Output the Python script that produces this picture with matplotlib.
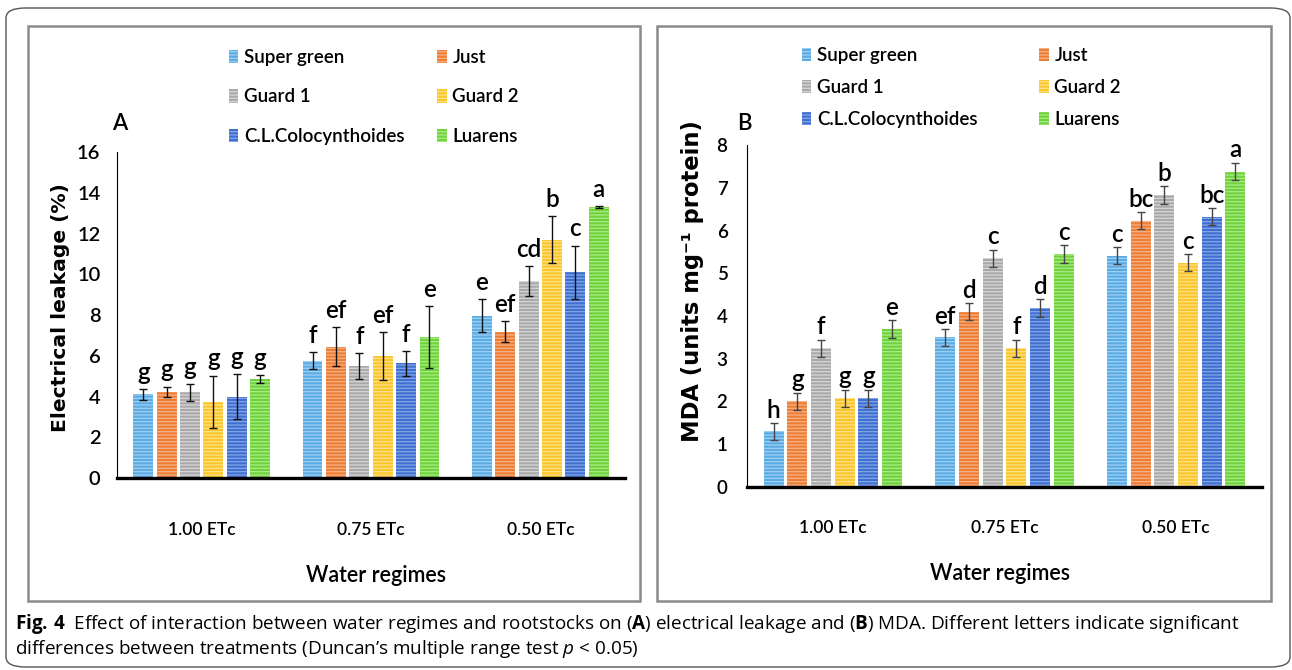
import numpy as np
import matplotlib
matplotlib.use("Agg")
import matplotlib.pyplot as plt
from matplotlib.patches import Rectangle, FancyBboxPatch

W, H = 1292, 670

regimes = ["1.00 ETc", "0.75 ETc", "0.50 ETc"]
rootstocks = ["Super green", "Just", "Guard 1", "Guard 2", "C.L.Colocynthoides", "Luarens"]
colors = ["#5aaae4", "#ee7d34", "#a9a9a9", "#fcc52a", "#3f6fd0", "#6fd23c"]
stripe = ["#9fd0f2", "#f6b288", "#d6d6d6", "#fde28a", "#86a6e6", "#a9ec86"]

# panel A: electrical leakage (%), rows = rootstock, cols = regime
el_mean = [[4.10, 5.76, 7.97],
           [4.24, 6.45, 7.18],
           [4.20, 5.51, 9.67],
           [3.75, 5.99, 11.70],
           [4.00, 5.63, 10.09],
           [4.87, 6.92, 13.30]]
el_err = [[0.25, 0.43, 0.82],
          [0.25, 0.94, 0.51],
          [0.40, 0.64, 0.74],
          [1.28, 1.18, 1.16],
          [1.10, 0.61, 1.32],
          [0.20, 1.54, 0.05]]
el_letters = [["g", "f", "e"],
              ["g", "ef", "ef"],
              ["g", "f", "cd"],
              ["g", "ef", "b"],
              ["g", "f", "c"],
              ["g", "e", "a"]]

# panel B: MDA (units mg-1 protein)
mda_mean = [[1.30, 3.50, 5.41],
            [2.01, 4.10, 6.23],
            [3.24, 5.35, 6.83],
            [2.08, 3.24, 5.25],
            [2.08, 4.18, 6.32],
            [3.69, 5.45, 7.38]]
mda_err = [[0.20, 0.20, 0.20],
           [0.20, 0.20, 0.20],
           [0.21, 0.20, 0.20],
           [0.20, 0.21, 0.20],
           [0.20, 0.21, 0.20],
           [0.21, 0.20, 0.21]]
mda_letters = [["h", "ef", "c"],
               ["g", "d", "bc"],
               ["f", "c", "b"],
               ["g", "f", "c"],
               ["g", "d", "bc"],
               ["e", "c", "a"]]

narrow = ["Lato", "DejaVu Sans"]
WT = "semibold"
plt.rcParams["hatch.linewidth"] = 0.9
plt.rcParams["mathtext.fontset"] = "custom"
plt.rcParams["mathtext.rm"] = "Open Sans"
plt.rcParams["mathtext.bf"] = "Open Sans:bold"
plt.rcParams["mathtext.it"] = "Open Sans:italic"


def box(x0, y0, x1, y1):
    # pixel box (from top-left) -> figure fraction rect
    return [x0 / W, 1 - y1 / H, (x1 - x0) / W, (y1 - y0) / H]


def draw_panel(ax, means, errs, letters, ymax, gap, ecol, ticksize, tickpad, catpad):
    x = np.arange(len(regimes))
    step, width = 0.138, 0.117
    bars = []
    for i, name in enumerate(rootstocks):
        pos = x + (i - 2.5) * step
        b = ax.bar(pos, means[i], width, color=colors[i], edgecolor=stripe[i],
                   linewidth=0, hatch="-----", label=name, zorder=2)
        ax.errorbar(pos, means[i], yerr=errs[i], fmt="none", ecolor=ecol,
                    elinewidth=1.0, capsize=3, capthick=1.0, zorder=3)
        for p, m, e, t in zip(pos, means[i], errs[i], letters[i]):
            ax.text(p, m + e + gap, t, ha="center", va="bottom",
                    fontsize=17.5, family=narrow, fontweight=WT, zorder=4)
        bars.append(b)
    ax.set_xlim(-0.5, 2.5)
    ax.set_ylim(0, ymax)
    ax.set_xticks(x)
    ax.set_xticklabels(regimes, family=narrow, fontsize=12.5, fontweight=WT)
    ax.tick_params(axis="x", length=0, pad=catpad)
    ax.tick_params(axis="y", length=0, pad=tickpad, labelsize=ticksize)
    for lab in ax.get_yticklabels():
        lab.set_family(narrow)
        lab.set_fontweight(WT)
    ax.spines["top"].set_visible(False)
    ax.spines["right"].set_visible(False)
    ax.spines["left"].set_linewidth(0.8)
    ax.spines["bottom"].set_linewidth(2.4)
    ax.patch.set_alpha(0)
    return bars


fig = plt.figure(figsize=(W / 100, H / 100), dpi=100)

# frames
fig.patches.append(FancyBboxPatch((6 / W, 1 - 667 / H), 1284 / W, 659 / H,
                                  boxstyle="round,pad=0,rounding_size=0.015",
                                  transform=fig.transFigure, fill=False,
                                  edgecolor="#555555", linewidth=1.0))
for x0, x1 in [(28, 640), (657, 1271)]:
    r = box(x0, 26, x1, 601)
    fig.patches.append(Rectangle((r[0], r[1]), r[2], r[3], transform=fig.transFigure,
                                 fill=False, edgecolor="#8a8a8a", linewidth=1.8))

axA = fig.add_axes(box(117, 152, 625, 478))
barsA = draw_panel(axA, el_mean, el_err, el_letters, 16, 0.25, "#111111", 14.5, 12, 32)
axA.set_yticks(range(0, 17, 2))

axB = fig.add_axes(box(747, 145, 1262, 487))
barsB = draw_panel(axB, mda_mean, mda_err, mda_letters, 8, 0.03, "#444444", 13.5, 14, 24)
axB.set_yticks(range(0, 9))

# y-axis titles placed by pixel centre
fig.text(61 / W, 1 - 308 / H, "Electrical leakage (%)", rotation=90, ha="center", va="center",
         family="DejaVu Sans", fontweight="bold", fontsize=14.6)
fig.text(692 / W, 1 - 281 / H, "MDA (units mg\u207b\u00b9 protein)", rotation=90, ha="center",
         va="center", family="DejaVu Sans", fontweight="bold", fontsize=16.3)

# legends, ordered column-wise so rows read Super green/Just, Guard 1/Guard 2, ...
order = [0, 2, 4, 1, 3, 5]
for bars, anchor, spacing, colsp in [(barsA, (229, 49), 1.2, 1.75),
                                     (barsB, (802, 47), 0.8, 3.3)]:
    fig.legend([bars[i] for i in order], [rootstocks[i] for i in order], ncol=2,
               loc="upper left", bbox_to_anchor=(anchor[0] / W, 1 - anchor[1] / H),
               frameon=False, prop={"family": narrow, "size": 13.5, "weight": WT},
               handlelength=0.5, handleheight=0.75, handletextpad=0.3,
               labelspacing=spacing, columnspacing=colsp, borderpad=0, borderaxespad=0)

fig.text(120 / W, 1 - 124 / H, "A", fontsize=16, family=narrow, fontweight=WT,
         ha="center", va="center")
fig.text(744 / W, 1 - 124 / H, "B", fontsize=16, family=narrow, fontweight=WT,
         ha="center", va="center")
fig.text(376 / W, 1 - 575 / H, "Water regimes", fontsize=15.5, family=narrow, fontweight=WT,
         ha="center", va="center")
fig.text(1000 / W, 1 - 573 / H, "Water regimes", fontsize=15.5, family=narrow, fontweight=WT,
         ha="center", va="center")

cap1 = (r"$\mathbf{Fig.\,4}$  Effect of interaction between water regimes and rootstocks on "
        r"($\mathbf{A}$) electrical leakage and ($\mathbf{B}$) MDA. Different letters indicate significant")
cap2 = r"differences between treatments (Duncan’s multiple range test $p$ < 0.05)"
fig.text(15 / W, 1 - 624 / H, cap1, fontsize=13.55, family="Open Sans", ha="left", va="center")
fig.text(15 / W, 1 - 649 / H, cap2, fontsize=13.55, family="Open Sans", ha="left", va="center")

fig.savefig("out.png", dpi=100)
